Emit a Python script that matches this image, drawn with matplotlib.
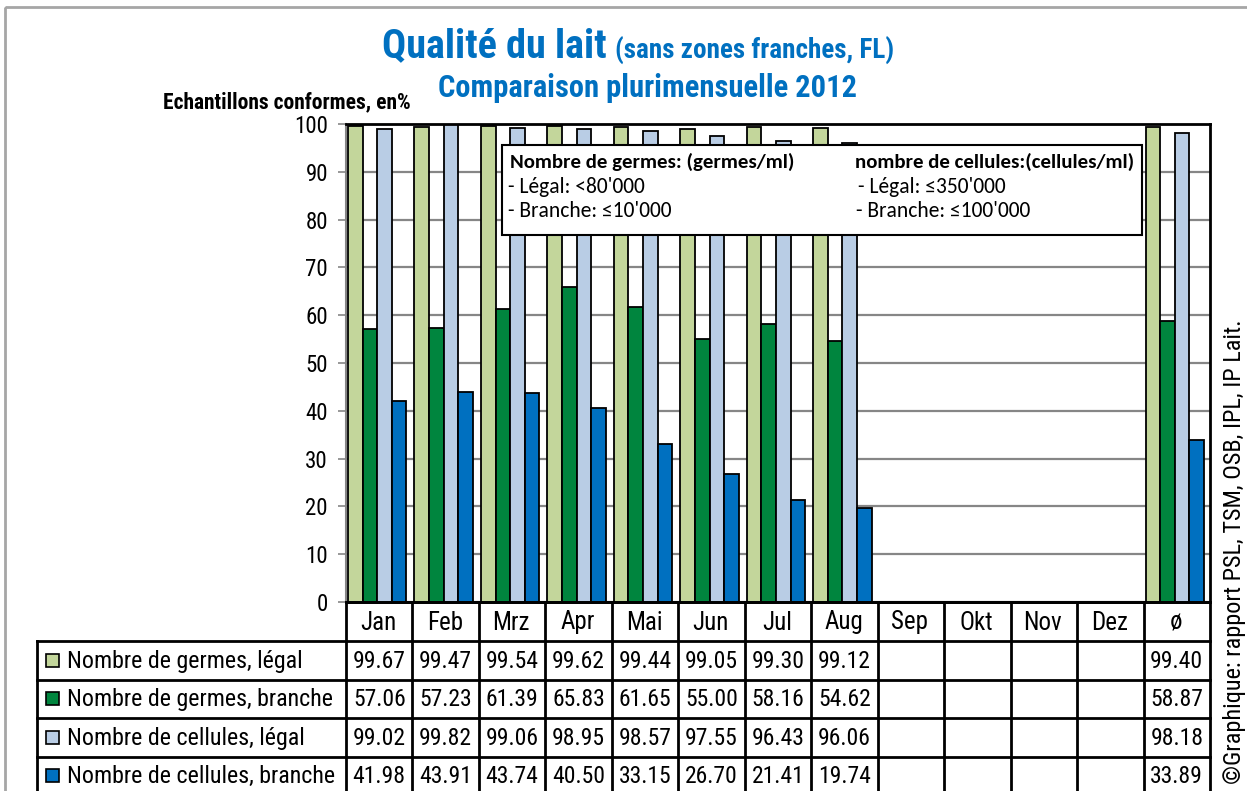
import numpy as np
import matplotlib
matplotlib.use('Agg')
import matplotlib.pyplot as plt
from matplotlib.patches import Rectangle
from matplotlib import font_manager

# ---------------- data ----------------
months = ['Jan', 'Feb', 'Mrz', 'Apr', 'Mai', 'Jun', 'Jul', 'Aug', 'Sep', 'Okt', 'Nov', 'Dez', 'ø']
series_names = ['Nombre de germes, légal', 'Nombre de germes, branche',
                'Nombre de cellules, légal', 'Nombre de cellules, branche']
nan = np.nan
germes_legal = [99.67, 99.47, 99.54, 99.62, 99.44, 99.05, 99.30, 99.12, nan, nan, nan, nan, 99.40]
germes_branche = [57.06, 57.23, 61.39, 65.83, 61.65, 55.00, 58.16, 54.62, nan, nan, nan, nan, 58.87]
cellules_legal = [99.02, 99.82, 99.06, 98.95, 98.57, 97.55, 96.43, 96.06, nan, nan, nan, nan, 98.18]
cellules_branche = [41.98, 43.91, 43.74, 40.50, 33.15, 26.70, 21.41, 19.74, nan, nan, nan, nan, 33.89]
yticks = [0, 10, 20, 30, 40, 50, 60, 70, 80, 90, 100]

colors = ['#C3D69B', '#00853E', '#B9CDE5', '#0070C0']
series = [germes_legal, germes_branche, cellules_legal, cellules_branche]

# ---------------- fonts ----------------
def wnum(w):
    if isinstance(w, str):
        return font_manager.weight_dict.get(w, 400)
    return w


fonts = {}
for f in font_manager.fontManager.ttflist:
    fonts.setdefault(f.name, set()).add(wnum(f.weight))


def pick(cands, default, bold=False):
    for c in cands:
        if c in fonts and (not bold or max(fonts[c]) >= 700):
            return c
    return default


narrow_cands = ['Liberation Sans Narrow', 'Arial Narrow', 'Arimo Narrow', 'Roboto Condensed',
                'Archivo Narrow', 'PT Sans Narrow', 'IBM Plex Sans Condensed', 'Open Sans Condensed']
NARROW = pick(narrow_cands, 'Liberation Sans', bold=True)
BOX = pick(['Carlito', 'Calibri', 'Lato'], 'DejaVu Sans', bold=True)
plt.rcParams['font.family'] = [NARROW, 'DejaVu Sans']
NF = [NARROW, 'DejaVu Sans']
BF = [BOX, 'DejaVu Sans']

W, H = 1247, 791
fig = plt.figure(figsize=(W / 100, H / 100), dpi=100)

# layout (pixels)
AX_L, AX_R, AX_T, AX_B = 346, 1210, 124, 602
ax = fig.add_axes([AX_L / W, 1 - AX_B / H, (AX_R - AX_L) / W, (AX_B - AX_T) / H])
n = len(months)
x = np.arange(n)
bw = 0.22
for i, (vals, c) in enumerate(zip(series, colors)):
    ax.bar(x + (i - 1.5) * bw - 0.03, vals, width=bw, color=c, edgecolor='black',
           linewidth=1.3, zorder=3, label=series_names[i])
ax.set_xlim(-0.5, n - 0.5)
ax.set_ylim(0, 100)
ax.set_yticks(yticks)
ax.set_yticklabels([str(t) for t in yticks], fontsize=16.5, family=NF)
ax.tick_params(axis='y', direction='out', length=6, width=1.2, color='#868686', pad=7)
ax.set_xticks([])
ax.yaxis.grid(True, color='#868686', linewidth=1.6, zorder=0)
ax.set_axisbelow(True)
ax.spines['left'].set_color('#868686')
ax.spines['left'].set_linewidth(1.5)
for s in ['top', 'right', 'bottom']:
    ax.spines[s].set_color('black')
    ax.spines[s].set_linewidth(2)

# ---------------- overlay (pixel coordinates) ----------------
ov = fig.add_axes([0, 0, 1, 1], zorder=5)
ov.set_xlim(0, W)
ov.set_ylim(H, 0)
ov.axis('off')
ov.patch.set_visible(False)

# outer chart frame
ov.add_patch(Rectangle((5, 7), W + 20, H + 20, fill=False, edgecolor='#A6A6A6', linewidth=2))

# table
col_w = (AX_R - AX_L) / n
row_h = 38.5
hdr_t, hdr_b = AX_B, AX_B + 39
row_tops = [hdr_b + k * row_h for k in range(len(series))]
LBL_L = 37
lw = 2
for k in range(n + 1):
    xx = AX_L + k * col_w
    ov.plot([xx, xx], [hdr_t, H + 10], color='black', lw=lw, solid_capstyle='butt')
ov.plot([LBL_L, LBL_L], [hdr_b, H + 10], color='black', lw=lw)
ov.plot([AX_L, AX_R], [hdr_t, hdr_t], color='black', lw=lw)
for k in range(len(series) + 1):
    yy = hdr_b + k * row_h
    ov.plot([LBL_L, AX_R], [yy, yy], color='black', lw=lw)
for k, m in enumerate(months):
    ov.text(AX_L + (k + 0.5) * col_w - 1, (hdr_t + hdr_b) / 2 + 1, m, ha='center', va='center',
            fontsize=18, family=NF)
for r, (vals, c, nm) in enumerate(zip(series, colors, series_names)):
    yc = row_tops[r] + row_h / 2
    ov.add_patch(Rectangle((46, yc - 6.5), 13, 13, facecolor=c, edgecolor='black', lw=1.2))
    ov.text(67, yc + 1, nm, ha='left', va='center', fontsize=17.3, family=NF)
    for k, v in enumerate(vals):
        if not np.isnan(v):
            ov.text(AX_L + (k + 0.5) * col_w, yc + 1, f'{v:.2f}', ha='center', va='center',
                    fontsize=17, family=NF)

# titles
ov.text(607, 46, 'Qualité du lait', ha='right', va='center', fontsize=29, fontweight='bold',
        color='#0070C0', family=NF)
ov.text(615, 51, '(sans zones franches, FL)', ha='left', va='center', fontsize=19.5, fontweight='bold',
        color='#0070C0', family=NF)
ov.text(648, 88, 'Comparaison plurimensuelle 2012', ha='center', va='center', fontsize=22,
        fontweight='bold', color='#0070C0', family=NF)
ov.text(163, 102, 'Echantillons conformes, en%', ha='left', va='center', fontsize=15.5,
        fontweight='bold', color='black', family=NF)

# annotation box
ov.add_patch(Rectangle((502, 145), 640, 90, facecolor='white', edgecolor='black', lw=1.5, zorder=6))
fs_box = 15
ov.text(510, 162, 'Nombre de germes: (germes/ml)', fontsize=fs_box, fontweight='bold', va='center',
        family=BF, zorder=7)
ov.text(855, 162, 'nombre de cellules:(cellules/ml)', fontsize=fs_box, fontweight='bold', va='center',
        family=BF, zorder=7)
ov.text(508, 187, '- Légal: <80\'000', fontsize=15.5, va='center', family=BF, zorder=7)
ov.text(508, 211, '- Branche: ≤10\'000', fontsize=15.5, va='center', family=BF, zorder=7)
ov.text(858, 187, '- Légal: ≤350\'000', fontsize=15.5, va='center', family=BF, zorder=7)
ov.text(856, 211, '- Branche: ≤100\'000', fontsize=15.5, va='center', family=BF, zorder=7)

# source note
ov.text(1235, 552, '©Graphique: rapport PSL, TSM, OSB, IPL, IP Lait.', rotation=90,
        ha='center', va='center', fontsize=17.5, family=NF)

fig.savefig('out.png', dpi=100)
